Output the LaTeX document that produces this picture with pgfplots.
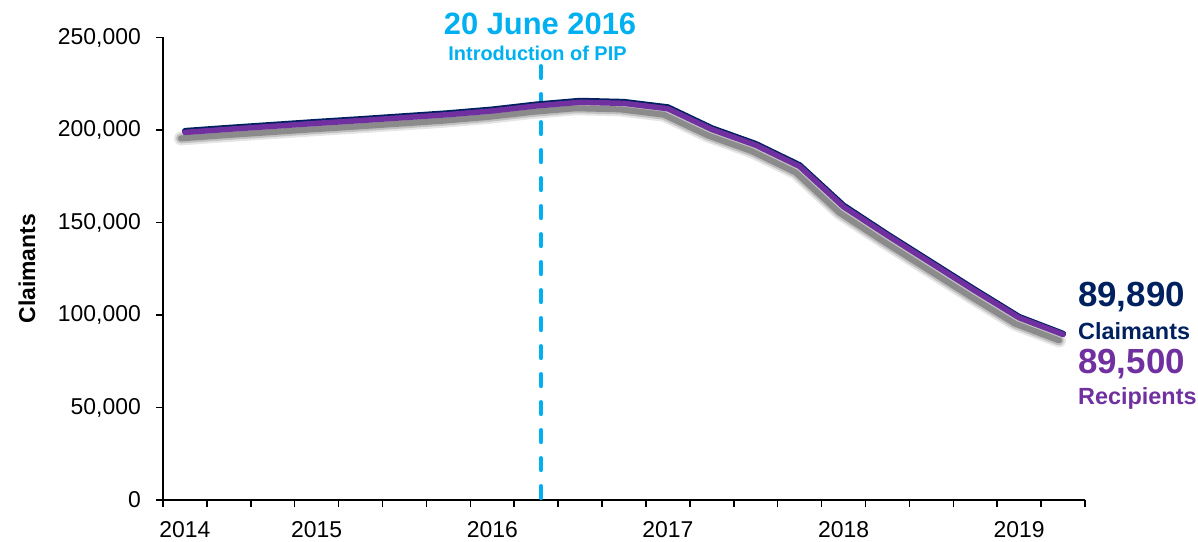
\documentclass[border=0pt]{standalone}
\usepackage{pgfplots}
\pgfplotsset{compat=1.18}
\usepackage{fontspec}
\setmainfont{Liberation Sans}
\definecolor{navy}{RGB}{0,32,96}
\definecolor{ppl}{RGB}{112,48,160}
\definecolor{cyn}{RGB}{0,176,240}
\pgfplotstableread{
i claim recip
0 199500 198700
1 201200 200400
2 202800 202000
3 204400 203600
4 205900 205100
5 207500 206700
6 209100 208300
7 211100 210300
8 213800 213000
9 215800 215000
10 215200 214400
11 212300 211500
12 201000 200300
13 192500 191800
14 181000 180300
15 159200 158500
16 143600 143000
17 128600 128000
18 113600 113000
19 99000 98500
20 89890 89500
}\datatable
\begin{document}
\begin{tikzpicture}
\useasboundingbox (-163bp,-42bp) rectangle (1035bp,500bp);
\begin{axis}[
  at={(0,0)}, anchor=south west,
  scale only axis, width=922bp, height=462.5bp,
  xmin=-0.5, xmax=20.5, ymin=0, ymax=250000,
  axis lines*=left,
  axis line style={line width=1.4bp, black},
  tick align=outside, tick pos=left,
  major tick length=7bp,
  tick style={black, line width=1.5bp},
  xtick={-0.5,0.5,1.5,2.5,3.5,4.5,5.5,6.5,7.5,8.5,9.5,10.5,11.5,12.5,13.5,14.5,15.5,16.5,17.5,18.5,19.5,20.5},
  xticklabels={},
  extra x ticks={0,3,7,11,15,19},
  extra x tick labels={2014,2015,2016,2017,2018,2019},
  extra x tick style={major tick length=0bp, xticklabel style={anchor=base, yshift=-37bp}},
  ytick={0,50000,100000,150000,200000,250000},
  yticklabels={0,{50,000},{100,000},{150,000},{200,000},{250,000}},
  yticklabel style={anchor=east, inner sep=0pt, xshift=-15bp},
  scaled y ticks=false,
  ticklabel style={font=\fontsize{23}{27}\selectfont, text=black},
  ylabel={Claimants},
  ylabel style={font=\fontsize{23}{27}\selectfont\bfseries, at={(axis description cs:-0.1475,0.5)}, anchor=center},
  clip=false,
]
\addplot[cyn, line width=3.8bp, line cap=round, dash pattern=on 12.2bp off 15.8bp] coordinates {(8.11,234600) (8.11,0)};
\addplot[black, opacity=0.10, line width=14bp, line join=round, line cap=round, xshift=-4bp, yshift=-6bp, mark=none] table[x=i, y=recip] {\datatable};
\addplot[black, opacity=0.16, line width=10bp, line join=round, line cap=round, xshift=-4bp, yshift=-6bp, mark=none] table[x=i, y=recip] {\datatable};
\addplot[black, opacity=0.28, line width=6bp, line join=round, line cap=round, xshift=-4bp, yshift=-6bp, mark=none] table[x=i, y=recip] {\datatable};
\addplot[navy, line width=6bp, line join=round, line cap=round, mark=none] table[x=i, y=claim] {\datatable};
\addplot[ppl, line width=5.5bp, line join=round, line cap=round, mark=none] table[x=i, y=recip] {\datatable};
\end{axis}
\node[anchor=base, text=cyn, font=\fontsize{31}{36}\selectfont\bfseries] at (377bp,465bp) {20 June 2016};
\node[anchor=base, text=cyn, font=\fontsize{20}{24}\selectfont\bfseries] at (374.5bp,439bp) {Introduction of PIP};
\node[anchor=base west, inner sep=0, text=navy, font=\fontsize{35}{40}\selectfont\bfseries] at (915bp,193.3bp) {89,890};
\node[anchor=base west, inner sep=0, text=navy, font=\fontsize{23.5}{27}\selectfont\bfseries] at (915bp,160bp) {Claimants};
\node[anchor=base west, inner sep=0, text=ppl, font=\fontsize{35}{40}\selectfont\bfseries] at (915bp,126.7bp) {89,500};
\node[anchor=base west, inner sep=0, text=ppl, font=\fontsize{23.5}{27}\selectfont\bfseries] at (915bp,95bp) {Recipients};
\end{tikzpicture}
\end{document}
